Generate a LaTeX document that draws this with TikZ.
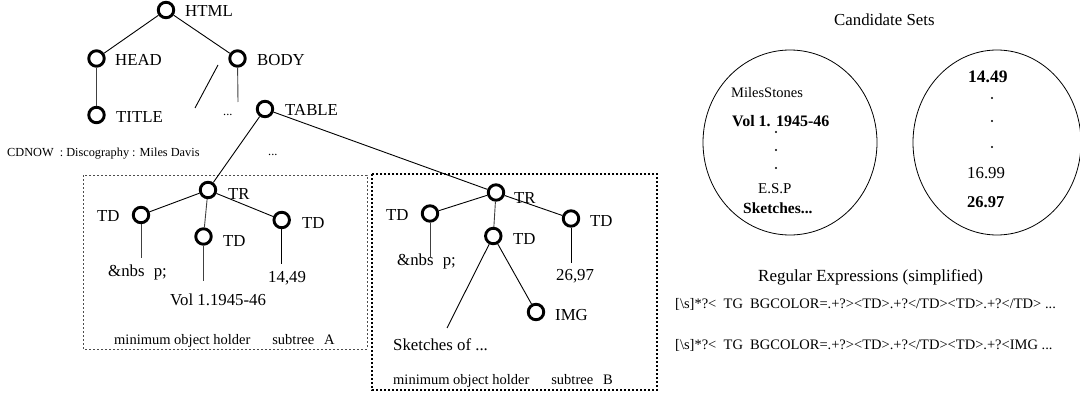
\documentclass[tikz,border=0pt]{standalone}
\usepackage{fontspec}
\setmainfont{Liberation Serif}
\usetikzlibrary{shapes.geometric}
\begin{document}
\begin{tikzpicture}[x=1pt,y=-1pt,
  ring/.style={circle,draw,line width=2.9pt,minimum size=15.5pt,inner sep=0pt},
  edge/.style={line width=0.9pt},
  lbl/.style={anchor=base west,inner sep=0pt,font=\fontsize{16.8}{18}\selectfont},
  small/.style={anchor=base west,inner sep=0pt,font=\fontsize{12.3}{14}\selectfont},
  capt/.style={anchor=base west,inner sep=0pt,font=\fontsize{14.5}{16}\selectfont},
  bold/.style={anchor=base west,inner sep=0pt,font=\bfseries\fontsize{16}{18}\selectfont},
  dot/.style={circle,fill,inner sep=0pt,minimum size=2.4pt},
  setshape/.style={ellipse,draw,line width=0.8pt,inner sep=0pt},
  boxA/.style={draw=black!70,line width=0.9pt,dash pattern=on 2pt off 2pt},
  boxB/.style={draw,line width=1.6pt,dash pattern=on 1.6pt off 2.4pt}
]
\useasboundingbox (0,0) rectangle (1080,396);

% ---------- document tree ----------
\node[ring] (html)  at (166,10)    {};
\node[ring] (head)  at (96.5,58.5) {};
\node[ring] (body)  at (237.5,58.5){};
\node[ring] (title) at (96.5,115)  {};
\node[ring] (table) at (265,109)   {};

\node[lbl] (lhtml)  at (185,17)  {HTML};
\node[lbl] (lhead)  at (115,66)  {HEAD};
\node[lbl] (lbody)  at (257,66)  {BODY};
\node[lbl] (ltitle) at (116,122) {TITLE};
\node[lbl] (ltable) at (285,116) {TABLE};
\node[small] (more1) at (223,116) {...};
\node[small] (crumb) at (7,156)   {CDNOW\ \ : Discography : Miles Davis};
\node[small] (more2) at (268,155) {...};

\coordinate (slashtop) at (218,65);
\coordinate (slashbot) at (195,108);
\coordinate (bodyend)  at (238,102);

\draw[edge] (html) -- (head);
\draw[edge] (html) -- (body);
\draw[edge,black!75] (head) -- (title);
\draw[edge] (slashtop) -- (slashbot);
\draw[edge,black!75] (body) -- (bodyend);

% ---------- subtree A ----------
\draw[boxA] (83,175) rectangle (367,349);
\node[ring] (trA)  at (208,190)     {};
\node[ring] (tdA1) at (141,215)     {};
\node[ring] (tdA2) at (203.5,236.5) {};
\node[ring] (tdA3) at (281.7,220)   {};

\node[lbl] (ltrA)  at (228,199) {TR};
\node[lbl] (ltdA1) at (97,221)  {TD};
\node[lbl] (ltdA2) at (223,246) {TD};
\node[lbl] (ltdA3) at (302,228) {TD};
\node[lbl] (nbspA) at (108,276) {\&nbs\hspace{0.3em} p;};
\node[lbl] (volA)  at (170,305) {Vol 1.1945-46};
\node[lbl] (prcA)  at (268,282) {14,49};
\node[capt] (captA) at (114,344) {minimum object holder\hspace{22pt}subtree\hspace{10pt}A};

\coordinate (leafA1) at (141,258);
\coordinate (leafA2) at (203.5,281);
\coordinate (leafA3) at (281.7,264);

\draw[edge] (table) -- (trA);
\draw[edge] (trA) -- (tdA1);
\draw[edge,black!75] (trA) -- (tdA2);
\draw[edge] (trA) -- (tdA3);
\draw[edge,black!75] (tdA1) -- (leafA1);
\draw[edge,black!75] (tdA2) -- (leafA2);
\draw[edge] (tdA3) -- (leafA3);

% ---------- subtree B ----------
\draw[boxB] (372,174) rectangle (657,390);
\node[ring] (trB)  at (496,192.5) {};
\node[ring] (tdB1) at (430,213.5) {};
\node[ring] (tdB2) at (493.3,236) {};
\node[ring] (tdB3) at (571,218.5) {};
\node[ring] (img)  at (536,312)   {};

\node[lbl] (ltrB)  at (514,203) {TR};
\node[lbl] (ltdB1) at (386,220) {TD};
\node[lbl] (ltdB2) at (513,244) {TD};
\node[lbl] (ltdB3) at (590,226) {TD};
\node[lbl] (nbspB) at (397,265) {\&nbs\hspace{0.3em} p;};
\node[lbl] (prcB)  at (556,280) {26,97};
\node[lbl] (limg)  at (555,320) {IMG};
\node[lbl] (sketch) at (393,350) {Sketches of ...};
\node[capt] (captB) at (393,384) {minimum object holder\hspace{22pt}subtree\hspace{10pt}B};

\coordinate (leafB1) at (430,258);
\coordinate (leafB2) at (447,328);
\coordinate (leafB3) at (571,263);

\draw[edge] (table) -- (trB);
\draw[edge] (trB) -- (tdB1);
\draw[edge,black!75] (trB) -- (tdB2);
\draw[edge] (trB) -- (tdB3);
\draw[edge,black!75] (tdB1) -- (leafB1);
\draw[edge] (tdB2) -- (leafB2);
\draw[edge] (tdB2) -- (img);
\draw[edge] (tdB3) -- (leafB3);

% ---------- candidate sets ----------
\node[lbl] (candt) at (834,26) {Candidate Sets};
\node[setshape,minimum width=174pt,minimum height=185pt] (setL) at (790,142.5) {};
\node[setshape,minimum width=168pt,minimum height=185pt] (setR) at (997,142.5) {};

\node[capt] (miles) at (731,98)  {MilesStones};
\node[bold] (volS)  at (732,126) {Vol 1. 1945-46};
\node[dot] (dl1) at (776,132) {};
\node[dot] (dl2) at (776,150) {};
\node[dot] (dl3) at (776,168) {};
\node[lbl,font=\fontsize{15}{17}\selectfont] (esp) at (758,193) {E.S.P};
\node[bold,font=\bfseries\fontsize{15.5}{17}\selectfont] (skS) at (743,213) {Sketches...};

\node[bold,font=\bfseries\fontsize{17.5}{19}\selectfont] (p1) at (968,83) {14.49};
\node[dot] (dr1) at (992,98)  {};
\node[dot] (dr2) at (992,121) {};
\node[dot] (dr3) at (992,147) {};
\node[lbl] (p2) at (967,178) {16.99};
\node[bold,font=\bfseries\fontsize{16.5}{18}\selectfont] (p3) at (967,207) {26.97};

% ---------- regular expressions ----------
\node[lbl,font=\fontsize{17}{19}\selectfont] (regt) at (758,281) {Regular Expressions (simplified)};
\node[capt] (re1) at (675,308) {[\textbackslash s]*?<\ \ TG\ \ BGCOLOR=.+?><TD>.+?</TD><TD>.+?</TD> ...};
\node[capt] (re2) at (675,349) {[\textbackslash s]*?<\ \ TG\ \ BGCOLOR=.+?><TD>.+?</TD><TD>.+?<IMG ...};
\end{tikzpicture}
\end{document}
